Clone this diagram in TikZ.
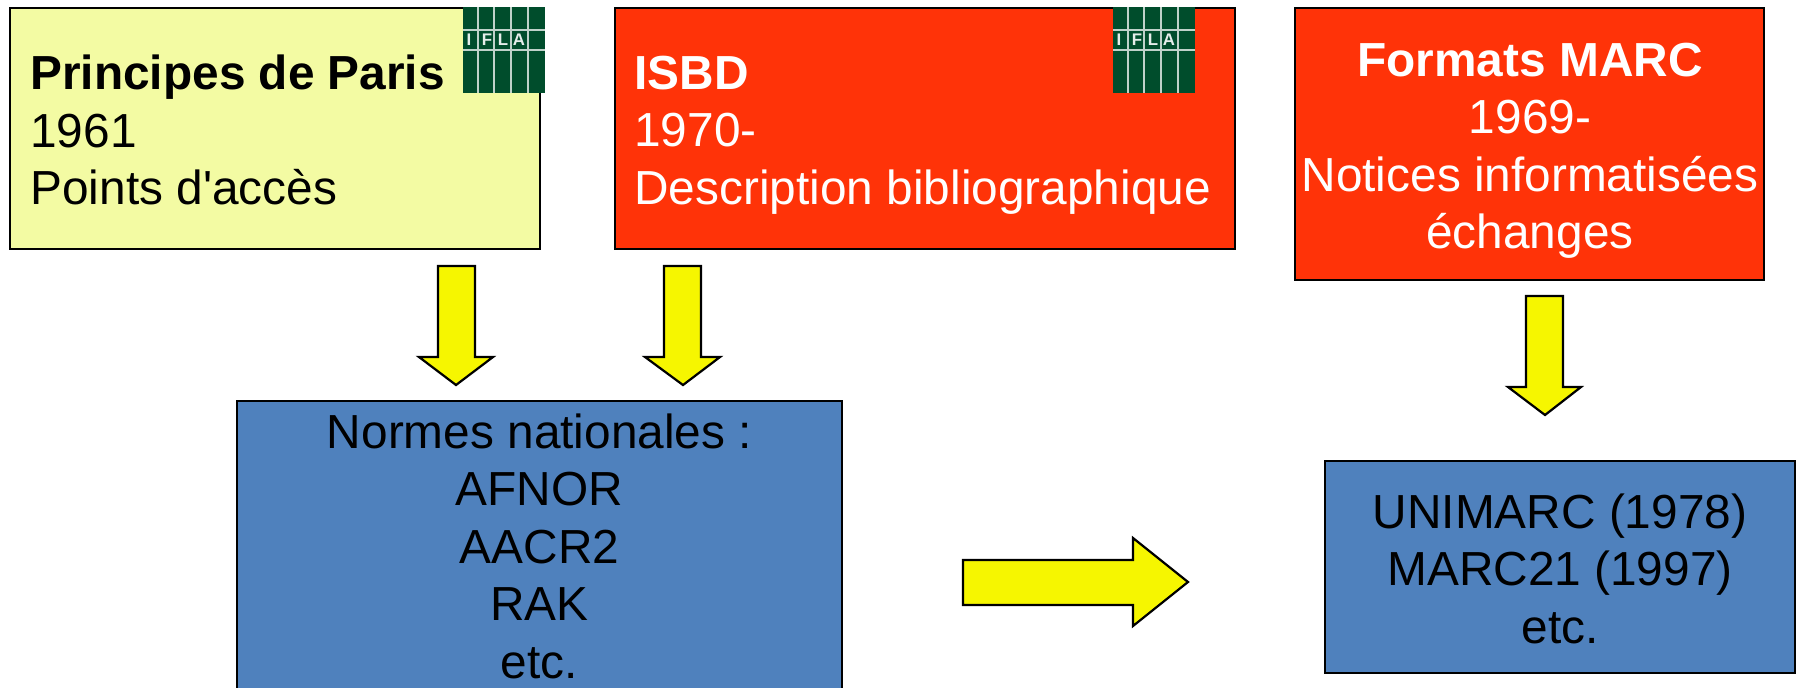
\documentclass[tikz,border=0pt]{standalone}
\usepackage{fontspec}
\setmainfont{Liberation Sans}[Ligatures=TeXOff]
\definecolor{paleyellow}{HTML}{F3FBA3}
\definecolor{redbox}{HTML}{FF3308}
\definecolor{bluebox}{HTML}{4F81BD}
\definecolor{arrowyellow}{HTML}{F6F600}
\definecolor{iflagreen}{HTML}{004D2C}
\newcommand{\bigtxt}{\fontsize{23.9}{28.75}\selectfont}
\newcommand{\iflalogo}[2]{%
  \fill[iflagreen] (#1,#2) rectangle ++(82,86);
  \foreach \dx in {15,31,48,65}{\draw[white!75!iflagreen,line width=.8pt] (#1+\dx,#2) -- ++(0,86);}
  \foreach \dy in {23,43}{\draw[white!75!iflagreen,line width=.8pt] (#1,#2+\dy) -- ++(82,0);}
  \foreach \dx/\c in {6/I,24/F,40/L,56/A}{\node[text=white!90!iflagreen,font=\fontsize{8.4}{9}\selectfont\bfseries,inner sep=0pt] at (#1+\dx,#2+33) {\c};}
}
\tikzset{
  x=0.5pt,y=-0.5pt,
  boxshape/.style={draw=black,line width=1pt},
  txt/.style={font=\bigtxt,inner sep=0pt,align=center,anchor=north},
  blockarrow/.style={draw=black,line width=1.1pt,fill=arrowyellow,line join=miter}
}
\begin{document}
\begin{tikzpicture}
\useasboundingbox (0,0) rectangle (1803,687);
\clip (0,0) rectangle (1803,687);
\path[boxshape,fill=paleyellow] (10,8) rectangle (540,249);
\path[boxshape,fill=redbox] (615,8) rectangle (1235,249);
\path[boxshape,fill=redbox] (1295,8) rectangle (1764,280);
\path[boxshape,fill=bluebox] (237,401) rectangle (842,700);
\path[boxshape,fill=bluebox] (1325,461) rectangle (1795,673);
\iflalogo{463}{7}
\iflalogo{1113}{7}
\node[txt,align=left,anchor=north west,text=black] (paris) at (30,54.5) {\textbf{Principes de Paris}\\1961\\Points d'accès};
\node[txt,align=left,anchor=north west,text=white] (isbd) at (634,55.5) {\textbf{ISBD}\\1970-\\Description bibliographique};
\node[txt,text=white] (marc) at (1530,42.5) {\textbf{Formats MARC}\\1969-\\Notices informatisées\\échanges};
\node[txt,text=black] (normes) at (539.5,413) {Normes nationales :\\AFNOR\\AACR2\\RAK\\etc.};
\node[txt,text=black] (uni) at (1560,493) {UNIMARC (1978)\\MARC21 (1997)\\etc.};
\draw[blockarrow] (438,266) -- (475,266) -- (475,357) -- (493,357) -- (456,385) -- (419,357) -- (438,357) -- cycle;
\draw[blockarrow] (664,266) -- (701,266) -- (701,357) -- (720,357) -- (683,385) -- (645,357) -- (664,357) -- cycle;
\draw[blockarrow] (1526,296) -- (1563,296) -- (1563,387) -- (1581,387) -- (1545,415) -- (1508,387) -- (1526,387) -- cycle;
\draw[blockarrow] (963,560) -- (1133,560) -- (1133,538) -- (1188,582) -- (1133,626) -- (1133,605) -- (963,605) -- cycle;
\end{tikzpicture}
\end{document}
